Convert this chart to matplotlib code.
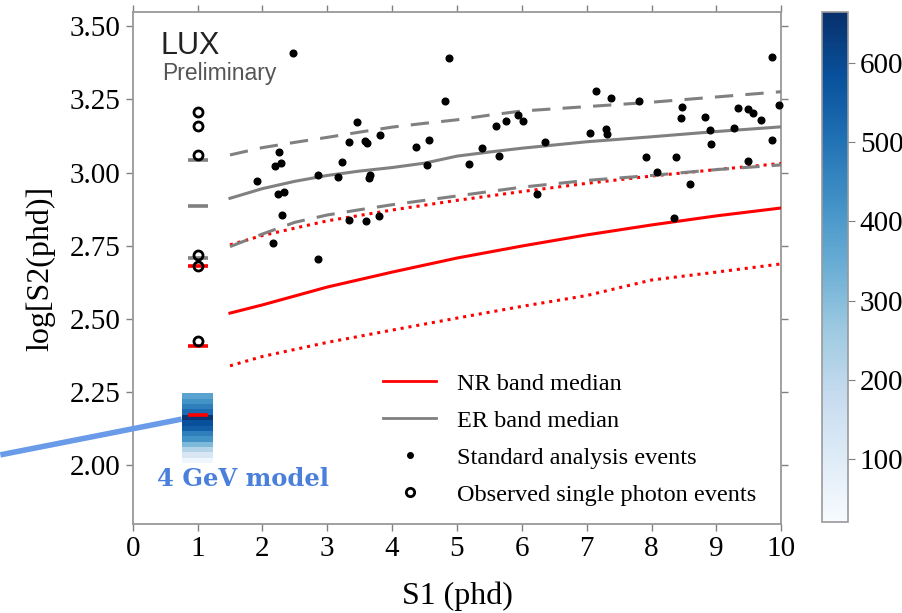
import matplotlib
matplotlib.use("Agg")
import matplotlib.pyplot as plt
import numpy as np
from matplotlib.lines import Line2D

# band curves (S1 in phd, log10 S2)
s1_nr = [1.5, 2, 3, 4, 5, 6, 7, 8, 9, 10]
nr_median = [2.520, 2.548, 2.609, 2.660, 2.708, 2.749, 2.787, 2.821, 2.852, 2.879]
nr_upper = [2.753, 2.785, 2.835, 2.872, 2.905, 2.935, 2.963, 2.988, 3.010, 3.031]
nr_lower = [2.340, 2.372, 2.420, 2.462, 2.503, 2.543, 2.580, 2.633, 2.660, 2.688]

s1_er = [1.5, 2, 2.5, 3, 3.5, 4, 4.5, 5, 5.5, 6, 7, 8, 9, 10]
er_median = [2.912, 2.945, 2.970, 2.990, 3.005, 3.017, 3.032, 3.056, 3.070, 3.083, 3.105, 3.122, 3.140, 3.156]
er_upper = [3.060, 3.085, 3.103, 3.120, 3.138, 3.155, 3.168, 3.180, 3.196, 3.210, 3.225, 3.240, 3.258, 3.276]
er_lower = [2.747, 2.790, 2.830, 2.855, 2.873, 2.890, 2.905, 2.920, 2.935, 2.950, 2.973, 2.990, 3.010, 3.026]

# standard analysis events
ev_s1 = [2.47, 4.87, 4.82, 3.46, 2.25, 3.33, 3.58, 3.62, 3.81, 2.20, 2.29, 1.92, 3.22,
         2.85, 3.16, 3.66, 3.65, 2.24, 2.33, 2.30, 2.17, 2.86, 3.34, 3.60, 3.80, 4.37,
         4.57, 4.53, 5.18, 5.38, 5.60, 5.75, 5.94, 6.01, 5.65, 6.36, 6.24, 7.14, 7.38,
         7.80, 7.05, 7.29, 7.32, 7.92, 8.09, 8.37, 8.59, 8.35, 8.47, 8.46, 8.83, 8.90,
         8.91, 9.27, 9.33, 9.49, 9.56, 9.69, 9.49, 9.86, 9.86, 9.96]
ev_s2 = [3.409, 3.390, 3.245, 3.172, 3.071, 3.104, 3.109, 3.102, 3.127, 3.023, 3.031,
         2.971, 3.035, 2.993, 2.985, 2.993, 2.981, 2.926, 2.932, 2.856, 2.760, 2.704,
         2.837, 2.833, 2.852, 3.088, 3.111, 3.027, 3.030, 3.084, 3.159, 3.177, 3.197,
         3.177, 3.056, 3.103, 2.926, 3.277, 3.254, 3.244, 3.134, 3.147, 3.131, 3.054,
         3.001, 3.053, 2.961, 2.844, 3.225, 3.187, 3.189, 3.145, 3.096, 3.153, 3.220,
         3.216, 3.204, 3.178, 3.040, 3.395, 3.111, 3.231]

# single photon (S1 = 1) events and band values at S1 = 1
sp_s1 = 1.0
sp_s2 = [3.2075, 3.160, 3.060, 2.718, 2.682, 2.425]
er_at_1 = [3.043, 2.886, 2.709]
nr_at_1 = [2.681, 2.409, 2.172]

# 4 GeV model histogram at S1 = 1 (bottom to top)
model_edges = np.linspace(2.008, 2.246, 14)
model_counts = [45, 120, 215, 310, 420, 470, 550, 585, 650, 520, 470, 420, 376]
cmin, cmax = 20, 665

fig = plt.figure(figsize=(9.02, 6.13), dpi=100)
ax = fig.add_axes([0.1471, 0.1452, 0.7191, 0.8352])
cax = fig.add_axes([0.9113, 0.1485, 0.0288, 0.832])

serif = "Liberation Serif"
gray = "#808080"

mesh = ax.pcolormesh([sp_s1 - 0.246, sp_s1 + 0.24], model_edges,
                     np.array(model_counts).reshape(-1, 1),
                     cmap="Blues", vmin=cmin, vmax=cmax, zorder=2)

ax.plot(s1_nr, nr_median, color="red", lw=2.2, zorder=3)
ax.plot(s1_nr, nr_upper, color="red", lw=2.2, ls=(0, (1, 1.6)), zorder=3)
ax.plot(s1_nr, nr_lower, color="red", lw=2.2, ls=(0, (1, 1.6)), zorder=3)
ax.plot(s1_er, er_median, color=gray, lw=2.2, zorder=3)
ax.plot(s1_er, er_upper, color=gray, lw=2.2, ls=(0, (6, 4)), zorder=3)
ax.plot(s1_er, er_lower, color=gray, lw=2.2, ls=(0, (6, 4)), zorder=3)

ax.hlines(er_at_1, sp_s1 - 0.154, sp_s1 + 0.154, color=gray, lw=2.6, zorder=4)
ax.hlines(nr_at_1, sp_s1 - 0.154, sp_s1 + 0.154, color="red", lw=2.6, zorder=4)

ax.plot(ev_s1, ev_s2, "o", color="black", ms=4.8, ls="none", zorder=5, clip_on=False)
ax.plot([sp_s1] * len(sp_s2), sp_s2, "o", mfc="none", mec="black", mew=2, ms=6.5,
        ls="none", zorder=6)

# pointer to the model histogram
ax.plot([-2.04, sp_s1 - 0.246], [2.036, 2.158], color="#6a9be8", lw=4,
        solid_capstyle="butt", clip_on=False, zorder=7)
ax.text(1.70, 1.955, "4 GeV model", color="#4a7fdc", fontsize=17.5,
        fontweight="bold", family="DejaVu Serif", ha="center", va="center")

ax.text(0.043, 0.918, "LUX", transform=ax.transAxes, fontsize=22,
        family="Liberation Sans", color="#222222", va="baseline")
ax.text(0.046, 0.868, "Preliminary", transform=ax.transAxes, fontsize=16.5,
        family="Liberation Sans", color="#555555", va="baseline")

ax.set_xlim(0, 10)
ax.set_ylim(1.80, 3.548)
ax.set_xticks(range(0, 11))
ax.set_yticks(np.arange(2.0, 3.51, 0.25))
ax.set_yticklabels(["%.2f" % v for v in np.arange(2.0, 3.51, 0.25)])
ax.tick_params(direction="out", length=5, width=1, color=gray,
               top=True, right=True, labelsize=21, pad=4)
for lab in ax.get_xticklabels() + ax.get_yticklabels():
    lab.set_family(serif)
for sp in ax.spines.values():
    sp.set_color("#999999")
    sp.set_linewidth(1.3)

ax.set_xlabel("S1 (phd)", fontsize=23, family=serif, labelpad=14)
ax.set_ylabel("log[S2(phd)]", fontsize=23, family=serif, labelpad=10)

handles = [
    Line2D([], [], color="red", lw=2),
    Line2D([], [], color=gray, lw=2),
    Line2D([], [], marker="o", color="black", ms=4, ls="none"),
    Line2D([], [], marker="o", mfc="none", mec="black", mew=2, ms=6, ls="none"),
]
labels = ["NR band median", "ER band median", "Standard analysis events",
          "Observed single photon events"]
ax.legend(handles, labels, loc="upper left", bbox_to_anchor=(0.4246, 0.392),
          bbox_transform=fig.transFigure, frameon=False, borderpad=0,
          borderaxespad=0, handlelength=2.2, handletextpad=0.85,
          labelspacing=0.62, prop={"family": serif, "size": 17.5})

cb = fig.colorbar(mesh, cax=cax)
cb.set_ticks([100, 200, 300, 400, 500, 600])
cb.outline.set_edgecolor("#999999")
cb.outline.set_linewidth(1.2)
cax.tick_params(direction="out", length=5, color=gray, labelsize=21)
for lab in cax.get_yticklabels():
    lab.set_family(serif)

fig.savefig("out.png", dpi=100)
